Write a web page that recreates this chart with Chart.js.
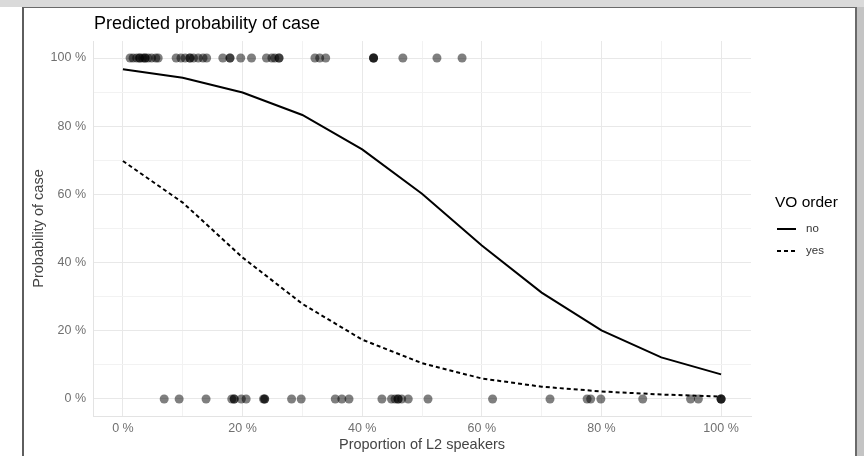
<!DOCTYPE html>
<html>
<head>
<meta charset="utf-8">
<script src="https://cdn.jsdelivr.net/npm/chart.js@4"></script>
<style>
  html, body { margin: 0; padding: 0; background: #fff; }
  #wrap { position: relative; width: 864px; height: 456px; overflow: hidden; }
  #wrap canvas { position: absolute; left: 0; top: 0; }
  .frame { position: absolute; pointer-events: none; }
</style>
</head>
<body>
<div id="wrap">
  <canvas id="probChart" width="864" height="456"></canvas>
  <div class="frame" style="left:0;top:0;width:864px;height:7px;background:#dadada;"></div>
  <div class="frame" style="left:22px;top:7px;width:842px;height:1px;background:#6a6a6a;"></div>
  <div class="frame" style="left:22px;top:7px;width:2px;height:449px;background:#5e5e5e;"></div>
  <div class="frame" style="left:855px;top:7px;width:2px;height:449px;background:#6a6a6a;"></div>
  <div class="frame" style="left:857px;top:7px;width:7px;height:449px;background:#c4c4c4;"></div>
</div>
<script>
// predicted curves, x in % of L2 speakers
const gridX = [0, 10, 20, 30, 40, 50, 60, 70, 80, 90, 100];
const predNo = [96.7, 94.2, 89.9, 83.3, 73.2, 60.2, 45.0, 31.2, 20.1, 12.2, 7.2];
const predYes = [69.8, 57.6, 41.5, 27.9, 17.4, 10.5, 6.0, 3.6, 2.2, 1.3, 0.7];

// observed cases (case = 100 %)
const caseX = [1.2, 1.7, 2.3, 2.8, 2.8, 3.3, 3.7, 3.7, 4.2, 4.8, 5.5, 5.9,
  8.9, 9.7, 10.4, 11.2, 11.2, 11.8, 12.6, 13.4, 14.0,
  16.7, 17.9, 17.9, 19.7, 21.5, 24.0, 24.9, 25.4, 26.1, 26.1,
  32.1, 32.9, 33.9, 41.9, 41.9, 41.9, 46.8, 52.5, 56.7];
// observed non-cases (case = 0 %)
const noCaseX = [6.9, 9.4, 13.9, 18.2, 18.6, 18.6, 19.8, 20.6, 23.5, 23.7, 23.7,
  28.2, 29.8, 35.5, 36.6, 37.8, 43.3, 44.9, 45.5, 46.0, 46.0, 46.6, 47.7, 51.0,
  61.8, 71.4, 77.6, 78.2, 79.9, 86.9, 94.9, 96.2, 100, 100, 100];

const yTicks = [0, 10, 20, 30, 40, 50, 60, 70, 80, 90, 100];
const legendTitle = 'VO order';
const legendLabels = ['no', 'yes'];

const pts = caseX.map(x => ({ x, y: 100 })).concat(noCaseX.map(x => ({ x, y: 0 })));

const font = 'Liberation Sans, Arial, sans-serif';

const extras = {
  id: 'extras',
  afterDraw(chart) {
    const ctx = chart.ctx;
    ctx.save();
    ctx.fillStyle = '#000';
    ctx.font = '18px ' + font;
    ctx.textBaseline = 'alphabetic';
    ctx.textAlign = 'left';
    ctx.fillText('Predicted probability of case', 94, 29);

    ctx.font = '15.5px ' + font;
    ctx.textBaseline = 'middle';
    ctx.fillText(legendTitle, 775, 203);
    ctx.font = '11.5px ' + font;
    ctx.fillStyle = '#333';
    const rows = [229, 251];
    legendLabels.forEach((lab, i) => {
      ctx.strokeStyle = '#000';
      ctx.lineWidth = 2;
      ctx.setLineDash(i === 0 ? [] : [4, 3]);
      ctx.beginPath();
      ctx.moveTo(777, rows[i]);
      ctx.lineTo(796, rows[i]);
      ctx.stroke();
      ctx.fillText(lab, 806, rows[i]);
    });
    ctx.restore();
  }
};

const gridColor = c => (c.tick && c.tick.value % 20 === 0) ? '#e8e8e8' : '#f2f2f2';

new Chart(document.getElementById('probChart'), {
  type: 'scatter',
  data: {
    datasets: [
      {
        label: 'observed',
        data: pts,
        pointRadius: 4.5,
        pointBackgroundColor: 'rgba(0,0,0,0.5)',
        pointBorderWidth: 0,
        showLine: false
      },
      {
        label: legendLabels[0],
        data: gridX.map((x, i) => ({ x, y: predNo[i] })),
        showLine: true,
        borderColor: '#000',
        borderWidth: 2,
        pointRadius: 0,
        tension: 0
      },
      {
        label: legendLabels[1],
        data: gridX.map((x, i) => ({ x, y: predYes[i] })),
        showLine: true,
        borderColor: '#000',
        borderWidth: 2,
        borderDash: [4, 3],
        pointRadius: 0,
        tension: 0
      }
    ]
  },
  options: {
    responsive: false,
    animation: false,
    layout: { padding: { left: 23, right: 113, top: 41, bottom: 0 } },
    plugins: { legend: { display: false }, tooltip: { enabled: false } },
    scales: {
      x: {
        type: 'linear',
        min: -5,
        max: 105,
        afterBuildTicks: s => { s.ticks = gridX.map(v => ({ value: v })); },
        afterFit: s => { s.height = 40; },
        ticks: {
          callback: v => v % 20 === 0 ? v + ' %' : '',
          color: '#707070',
          font: { family: font, size: 12.5 },
          padding: 5,
          maxRotation: 0,
          autoSkip: false
        },
        grid: { color: gridColor, drawTicks: false },
        border: { display: true, color: '#e3e3e3' },
        title: {
          display: true,
          text: 'Proportion of L2 speakers',
          color: '#444',
          font: { family: font, size: 14.5 },
          padding: { top: 0, bottom: 2 }
        }
      },
      y: {
        type: 'linear',
        min: -5,
        max: 105,
        afterBuildTicks: s => { s.ticks = yTicks.map(v => ({ value: v })); },
        afterFit: s => { s.width = 70; },
        ticks: {
          callback: v => v % 20 === 0 ? v + ' %' : '',
          color: '#707070',
          font: { family: font, size: 12.5 },
          padding: 7,
          autoSkip: false
        },
        grid: { color: gridColor, drawTicks: false },
        border: { display: true, color: '#e3e3e3' },
        title: {
          display: true,
          text: 'Probability of case',
          color: '#444',
          font: { family: font, size: 14.5 },
          padding: { top: 7, bottom: 0 }
        }
      }
    }
  },
  plugins: [extras]
});
</script>
</body>
</html>
